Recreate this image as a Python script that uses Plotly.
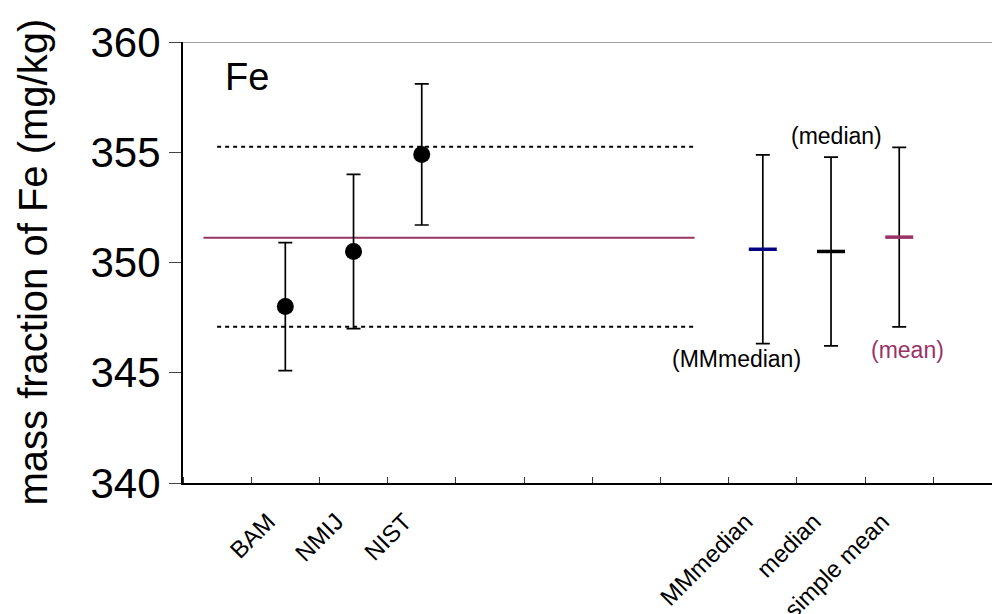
import plotly.graph_objects as go

# ---- data ----
categories = ["", "BAM", "NMIJ", "NIST", "", "", "", "", "MMmedian", "median", "simple mean", ""]
lab_names = ["BAM", "NMIJ", "NIST"]
lab_values = [348.0, 350.5, 354.9]
lab_unc_plus = [2.9, 3.5, 3.2]
lab_unc_minus = [2.9, 3.5, 3.2]

stat_names = ["MMmedian", "median", "simple mean"]
stat_values = [350.6, 350.5, 351.15]
stat_unc = [4.28, 4.28, 4.07]
stat_colors = ["#000080", "#000000", "#993366"]
stat_notes = ["(MMmedian)", "(median)", "(mean)"]
note_pos = [(7.61, 345.62), (9.08, 355.74), (10.12, 346.03)]

ref_upper = 355.25
ref_lower = 347.09
ref_mean = 351.12
ref_span = [0, 7]
mean_span = [-0.2, 7]

y_ticks = [340, 345, 350, 355, 360]
element = "Fe"
y_title = "mass fraction of Fe (mg/kg)"

FONT = "Liberation Sans, Arial, sans-serif"
LABEL_SHIFT = -0.25  # rotated labels end slightly left of the category centre

xi = {c: i for i, c in enumerate(categories) if c}
fig = go.Figure()

# reference lines
for yv in (ref_upper, ref_lower):
    fig.add_trace(go.Scatter(x=ref_span, y=[yv, yv], mode="lines",
                             line=dict(color="black", width=2, dash="4px,4px"),
                             hoverinfo="skip", showlegend=False))
fig.add_trace(go.Scatter(x=mean_span, y=[ref_mean, ref_mean], mode="lines",
                         line=dict(color="#993366", width=2),
                         hoverinfo="skip", showlegend=False))

# lab results
fig.add_trace(go.Scatter(
    x=[xi[n] for n in lab_names], y=lab_values, mode="markers",
    marker=dict(symbol="circle", size=17, color="black"),
    error_y=dict(type="data", symmetric=False, array=lab_unc_plus, arrayminus=lab_unc_minus,
                 color="black", thickness=1.7, width=7),
    showlegend=False))

# consensus estimates
for n, v, u, c in zip(stat_names, stat_values, stat_unc, stat_colors):
    fig.add_trace(go.Scatter(
        x=[xi[n]], y=[v], mode="markers",
        marker=dict(symbol="line-ew", size=20, color=c, line=dict(color=c, width=3.5)),
        error_y=dict(type="data", array=[u], color="black", thickness=1.7, width=7),
        showlegend=False))

# top border line
fig.add_shape(type="line", xref="paper", yref="y", x0=0, x1=1, y0=360, y1=360,
              line=dict(color="#444444", width=1))

annotations = []
for (ax, ay), t, c in zip(note_pos, stat_notes, stat_colors):
    col = c if t == "(mean)" else "black"
    annotations.append(dict(x=ax, y=ay, xref="x", yref="y", text=t, showarrow=False,
                            xanchor="center", yanchor="middle",
                            font=dict(family=FONT, size=23, color=col)))
annotations.append(dict(x=0.09, y=358.43, xref="x", yref="y", text=element, showarrow=False,
                        xanchor="left", yanchor="middle",
                        font=dict(family=FONT, size=38, color="black")))
annotations.append(dict(x=(32 - 183) / 809, y=0.5, xref="paper", yref="paper", text=y_title,
                        textangle=-90, showarrow=False, xanchor="center", yanchor="middle",
                        font=dict(family=FONT, size=40, color="black")))

fig.update_layout(
    width=992, height=614,
    margin=dict(l=183, r=0, t=42, b=131, pad=0, autoexpand=False),
    paper_bgcolor="white", plot_bgcolor="white",
    annotations=annotations,
    xaxis=dict(
        range=[-0.5, 11.36],
        automargin=False,
        tickmode="array",
        tickvals=[xi[n] + LABEL_SHIFT for n in lab_names + stat_names],
        ticktext=lab_names + stat_names,
        ticks="", tickangle=-45, ticklabelstandoff=13,
        tickfont=dict(family=FONT, size=24, color="black"),
        showgrid=False, zeroline=False,
        showline=True, linecolor="black", linewidth=2,
        minor=dict(tick0=-0.5, dtick=1, ticks="inside", ticklen=6, tickcolor="#333", tickwidth=1),
    ),
    yaxis=dict(
        range=[340, 360],
        automargin=False,
        tickvals=y_ticks,
        ticks="outside", ticklen=12, tickcolor="#444", tickwidth=1,
        tickfont=dict(family=FONT, size=42, color="black"),
        showgrid=False, zeroline=False,
        showline=True, linecolor="black", linewidth=2,
    ),
)

fig.write_html("out.html")
